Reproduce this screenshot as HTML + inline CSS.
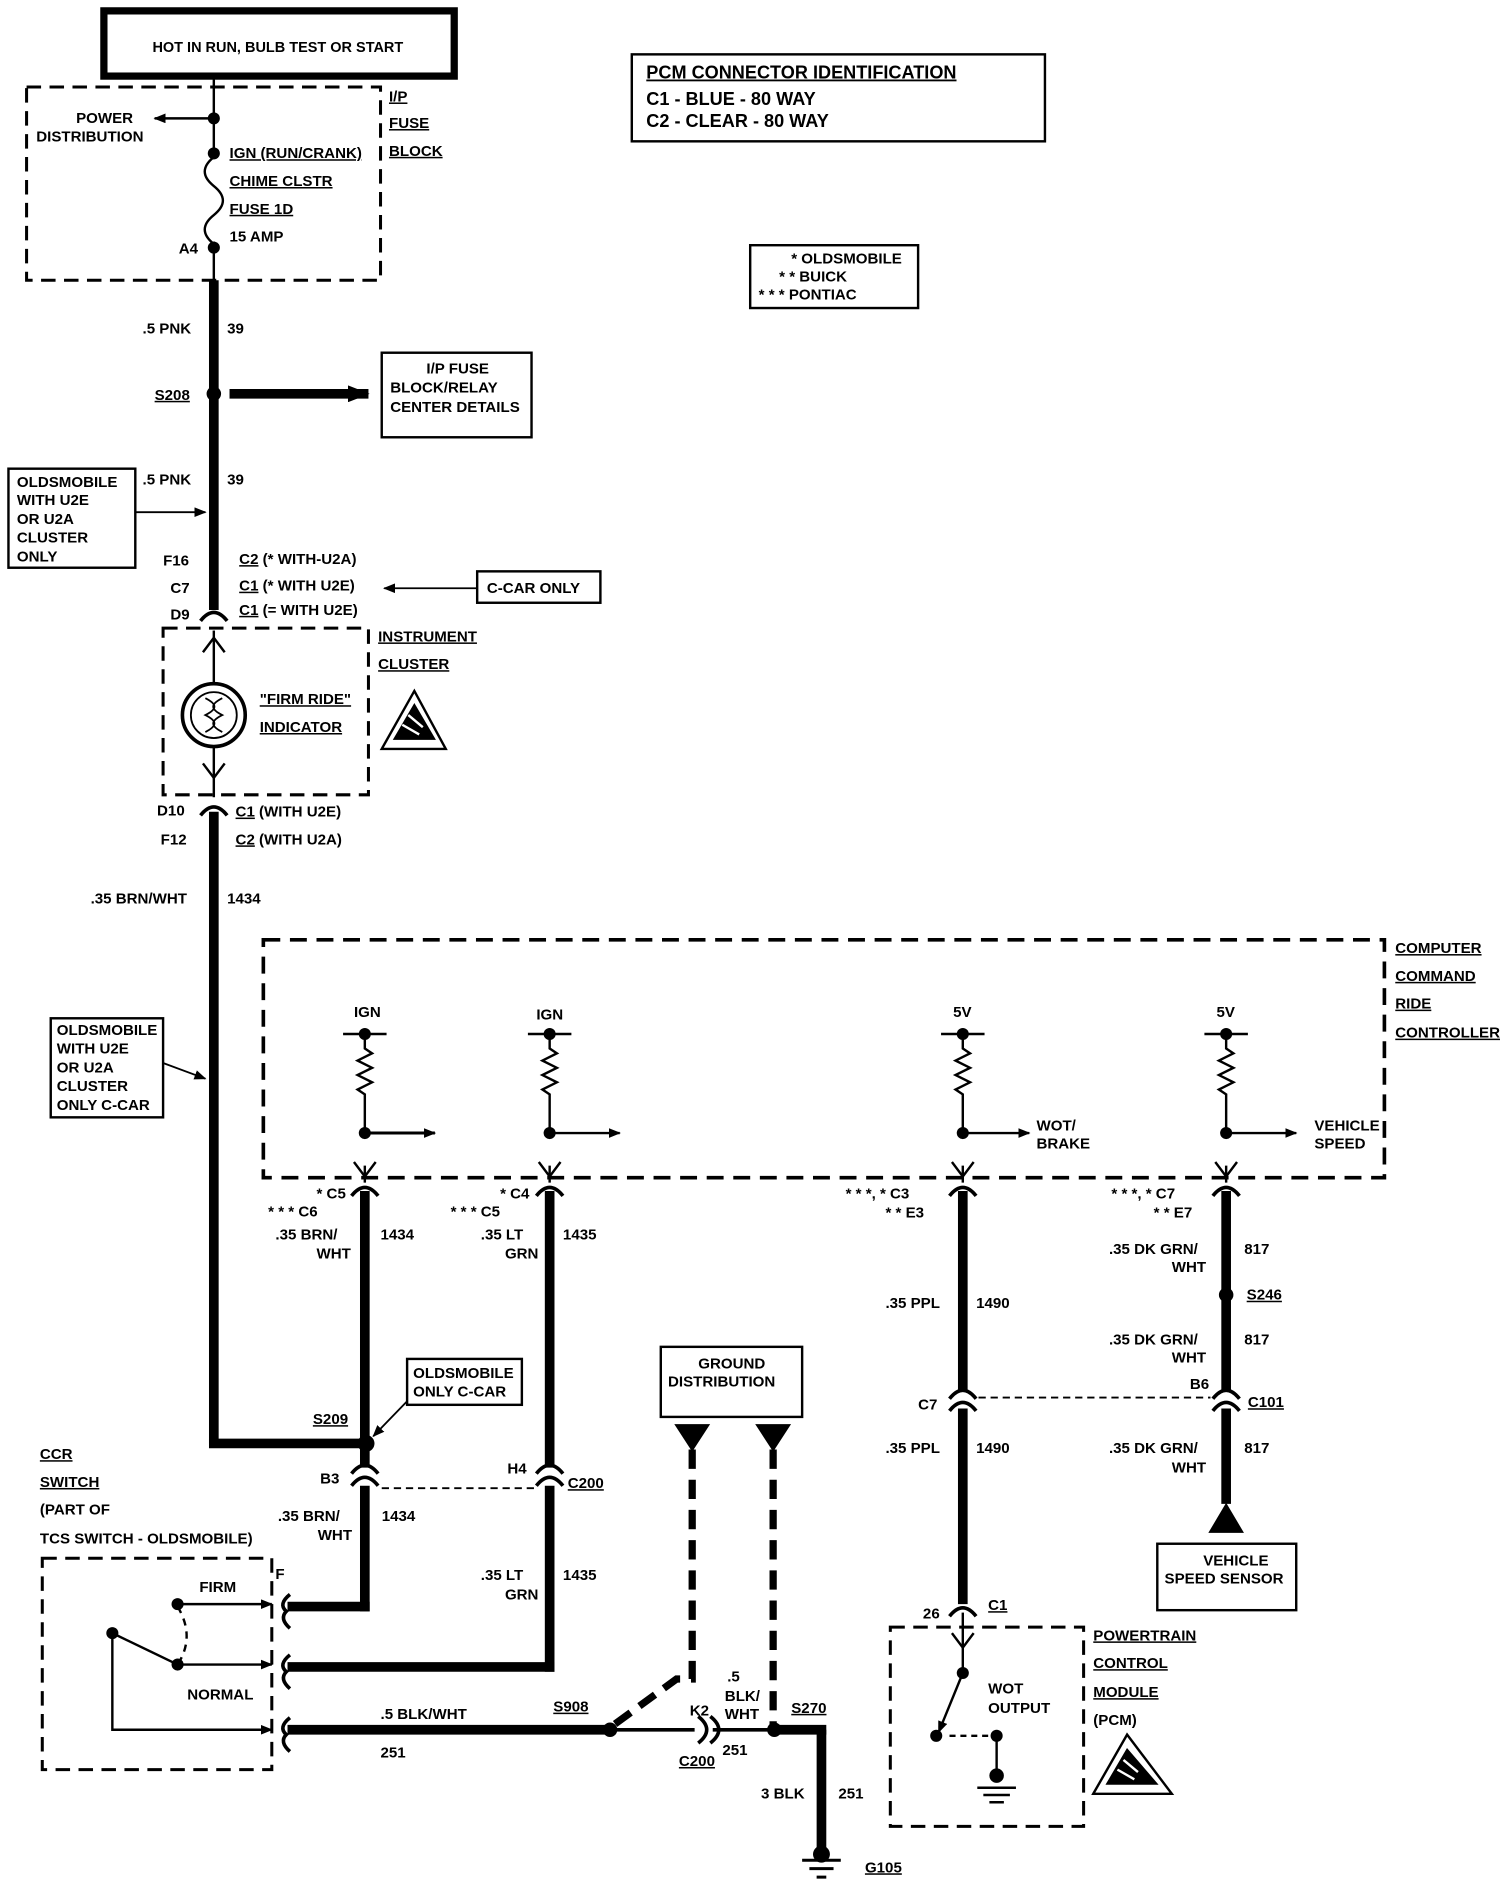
<!DOCTYPE html>
<html><head><meta charset="utf-8"><style>
html,body{margin:0;padding:0;background:#fff;}
svg{display:block;}
text{font-family:"Liberation Sans",sans-serif;font-size:12.5px;font-weight:bold;fill:#000;}
.u{text-decoration:underline;}
</style></head><body>
<svg width="1504" height="1888" viewBox="0 0 1245 1563" preserveAspectRatio="none" xmlns="http://www.w3.org/2000/svg">
<defs>
<marker id="ah" markerWidth="10" markerHeight="8" refX="9" refY="4" orient="auto" markerUnits="userSpaceOnUse"><path d="M0,0 L10,4 L0,8z" fill="#000"/></marker>
<marker id="ahs" markerWidth="18" markerHeight="14" refX="17" refY="7" orient="auto" markerUnits="userSpaceOnUse"><path d="M0,0 L18,7 L0,14z" fill="#000"/></marker>
</defs>
<g fill="none" stroke="#000">
<rect x="86" y="9" width="290" height="54" stroke-width="6"/>
<rect x="22" y="72" width="293" height="160" stroke-width="2.5" stroke-dasharray="12,7"/>
<line x1="177" y1="64" x2="177" y2="130" stroke-width="2"/>
<path d="M177,130 c-10,8 -10,16 0,24 c10,8 10,16 0,24 c-10,8 -10,16 0,24" stroke-width="2"/>
<line x1="177" y1="200" x2="177" y2="232" stroke-width="2"/>
<line x1="177" y1="98" x2="128" y2="98" stroke-width="2" marker-end="url(#ah)"/>
<line x1="177" y1="232" x2="177" y2="505" stroke-width="8"/>
<line x1="190" y1="326" x2="305" y2="326" stroke-width="8" marker-end="url(#ahs)"/>
<rect x="316" y="292" width="124" height="70" stroke-width="2"/>
<rect x="7" y="388" width="105" height="82" stroke-width="2"/>
<line x1="112" y1="424" x2="170" y2="424" stroke-width="1.5" marker-end="url(#ah)"/>
<line x1="395" y1="487" x2="318" y2="487" stroke-width="1.5" marker-end="url(#ah)"/>
<rect x="395" y="473" width="102" height="26" stroke-width="2"/>
<path d="M166,514 q11,-14 22,0" stroke-width="3"/>
<rect x="135" y="520" width="170" height="138" stroke-width="2.5" stroke-dasharray="12,7"/>
<line x1="177" y1="522" x2="177" y2="566" stroke-width="2"/>
<path d="M168,540 L177,528 L186,540" stroke-width="2"/>
<circle cx="177" cy="592" r="26" stroke-width="3"/>
<circle cx="177" cy="592" r="19" stroke-width="1.5"/>
<path d="M170,578 c10,5 10,9 0,14 c10,5 10,9 0,14 M184,578 c-10,5 -10,9 0,14 c-10,5 -10,9 0,14" stroke-width="1.5"/>
<line x1="177" y1="618" x2="177" y2="660" stroke-width="2"/>
<path d="M168,632 L177,644 L186,632" stroke-width="2"/>
<path d="M166,675 q11,-14 22,0" stroke-width="3"/>
<line x1="177" y1="672" x2="177" y2="1195" stroke-width="8"/>
<line x1="173" y1="1195" x2="303" y2="1195" stroke-width="8"/>
<rect x="42" y="843" width="93" height="82" stroke-width="2"/>
<line x1="135" y1="880" x2="170" y2="893" stroke-width="1.5" marker-end="url(#ah)"/>
<path d="M316,620 L343,572 L369,620z" stroke-width="2"/>
<path d="M326,612 L343,583 L360,612z" fill="#000" stroke-width="1"/>
<path d="M333,600 l14,8 M338,592 l12,10" stroke="#fff" stroke-width="2"/>
<rect x="218" y="778" width="928" height="197" stroke-width="3" stroke-dasharray="14,8"/>
<g stroke-width="2">
<line x1="284" y1="856" x2="320" y2="856"/><line x1="437" y1="856" x2="473" y2="856"/>
<line x1="779" y1="856" x2="815" y2="856"/><line x1="997" y1="856" x2="1033" y2="856"/>
<path d="M302,856 v12 l6,4 l-12,6 l12,6 l-12,6 l12,6 l-12,6 l6,4 v32 M302,965 v14"/>
<path d="M455,856 v12 l6,4 l-12,6 l12,6 l-12,6 l12,6 l-12,6 l6,4 v32 M455,965 v14"/>
<path d="M797,856 v12 l6,4 l-12,6 l12,6 l-12,6 l12,6 l-12,6 l6,4 v32 M797,965 v14"/>
<path d="M1015,856 v12 l6,4 l-12,6 l12,6 l-12,6 l12,6 l-12,6 l6,4 v32 M1015,965 v14"/>
<path d="M293,962 l9,12 l9,-12 M446,962 l9,12 l9,-12 M788,962 l9,12 l9,-12 M1006,962 l9,12 l9,-12"/>
</g>
<line x1="302" y1="938" x2="360" y2="938" stroke-width="2.5" marker-end="url(#ah)"/>
<line x1="455" y1="938" x2="513" y2="938" stroke-width="2" marker-end="url(#ah)"/>
<line x1="797" y1="938" x2="852" y2="938" stroke-width="2" marker-end="url(#ah)"/>
<line x1="1015" y1="938" x2="1073" y2="938" stroke-width="2" marker-end="url(#ah)"/>
<g stroke-width="3">
<path d="M291,990 q11,-14 22,0"/><path d="M444,990 q11,-14 22,0"/><path d="M786,990 q11,-14 22,0"/><path d="M1004,990 q11,-14 22,0"/>
</g>
<g stroke-width="8">
<line x1="302" y1="986" x2="302" y2="1215"/>
<line x1="302" y1="1230" x2="302" y2="1334"/><line x1="238" y1="1330" x2="306" y2="1330"/>
<line x1="455" y1="986" x2="455" y2="1215"/>
<line x1="455" y1="1230" x2="455" y2="1384"/><line x1="238" y1="1380" x2="459" y2="1380"/>
<line x1="797" y1="986" x2="797" y2="1152"/><line x1="797" y1="1166" x2="797" y2="1328"/>
<line x1="1015" y1="986" x2="1015" y2="1152"/><line x1="1015" y1="1166" x2="1015" y2="1245"/>
<line x1="238" y1="1432" x2="505" y2="1432"/>
<line x1="641" y1="1432" x2="684" y2="1432"/><line x1="680" y1="1432" x2="680" y2="1535"/>
</g>
<line x1="505" y1="1432" x2="575" y2="1432" stroke-width="3"/>
<line x1="590" y1="1432" x2="641" y2="1432" stroke-width="3"/>
<g stroke-width="3">
<path d="M291,1220 q11,-14 22,0 M291,1230 q11,-14 22,0"/>
<path d="M444,1220 q11,-14 22,0 M444,1230 q11,-14 22,0"/>
<path d="M786,1158 q11,-14 22,0 M786,1168 q11,-14 22,0"/>
<path d="M1004,1158 q11,-14 22,0 M1004,1168 q11,-14 22,0"/>
<path d="M786,1338 q11,-14 22,0"/>
<path d="M578,1421 q14,11 0,22 M588,1421 q14,11 0,22"/>
<path d="M240,1320 q-10,8 -3,14 q-6,6 3,14" />
<path d="M240,1370 q-10,8 -3,14 q-6,6 3,14" />
<path d="M240,1422 q-10,8 -3,14 q-6,6 3,14" />
</g>
<line x1="316" y1="1232" x2="444" y2="1232" stroke-width="1.5" stroke-dasharray="6,4"/>
<line x1="810" y1="1157" x2="1002" y2="1157" stroke-width="1.5" stroke-dasharray="6,4"/>
<rect x="337" y="1125" width="95" height="38" stroke-width="2"/>
<line x1="337" y1="1160" x2="309" y2="1189" stroke-width="1.5" marker-end="url(#ah)"/>
<path d="M1002,1268 L1015,1246 L1028,1268z" fill="#000" stroke-width="2"/>
<rect x="958" y="1278" width="115" height="55" stroke-width="2"/>
<rect x="737" y="1347" width="160" height="165" stroke-width="2.5" stroke-dasharray="12,7"/>
<line x1="797" y1="1335" x2="797" y2="1385" stroke-width="2"/>
<path d="M788,1352 l9,12 l9,-12" stroke-width="2"/>
<line x1="797" y1="1385" x2="777" y2="1434" stroke-width="2" marker-end="url(#ah)"/>
<line x1="786" y1="1437" x2="822" y2="1437" stroke-width="2" stroke-dasharray="5,4"/>
<line x1="825" y1="1437" x2="825" y2="1472" stroke-width="2"/>
<path d="M809,1480 h32 M814,1486 h22 M819,1492 h12" stroke-width="2"/>
<path d="M905,1485 L933,1436 L970,1485z" stroke-width="2"/>
<path d="M916,1477 L933,1448 L958,1477z" fill="#000" stroke-width="1"/>
<path d="M925,1465 l14,8 M930,1457 l12,10" stroke="#fff" stroke-width="2"/>
<rect x="35" y="1290" width="190" height="175" stroke-width="2.5" stroke-dasharray="12,7"/>
<line x1="147" y1="1328" x2="225" y2="1328" stroke-width="2" marker-end="url(#ah)"/>
<line x1="147" y1="1378" x2="225" y2="1378" stroke-width="2" marker-end="url(#ah)"/>
<line x1="93" y1="1352" x2="147" y2="1378" stroke-width="2"/>
<path d="M93,1352 V1432 H225" stroke-width="2" marker-end="url(#ah)"/>
<path d="M147,1330 q15,25 0,48" stroke-width="2" stroke-dasharray="6,5"/>
<rect x="547" y="1115" width="117" height="58" stroke-width="2"/>
<path d="M560,1180 h26 l-13,20z M627,1180 h26 l-13,20z" fill="#000" stroke-width="2"/>
<path d="M573,1200 V1390 H560 L508,1428" stroke-width="6" stroke-dasharray="16,9"/>
<path d="M640,1200 V1432" stroke-width="6" stroke-dasharray="16,9"/>
<path d="M664,1540 h32 M670,1547 h20 M676,1554 h8" stroke-width="2.5"/>
<rect x="523" y="45" width="342" height="72" stroke-width="2"/>
<rect x="621" y="203" width="139" height="52" stroke-width="2"/>
</g>
<g fill="#000">
<circle cx="177" cy="98" r="5"/><circle cx="177" cy="127" r="5"/><circle cx="177" cy="205" r="5"/>
<circle cx="177" cy="326" r="6"/>
<circle cx="302" cy="856" r="5"/><circle cx="455" cy="856" r="5"/><circle cx="797" cy="856" r="5"/><circle cx="1015" cy="856" r="5"/>
<circle cx="302" cy="938" r="5"/><circle cx="455" cy="938" r="5"/><circle cx="797" cy="938" r="5"/><circle cx="1015" cy="938" r="5"/>
<circle cx="303" cy="1195" r="7"/><circle cx="1015" cy="1072" r="6"/>
<circle cx="147" cy="1328" r="5"/><circle cx="147" cy="1378" r="5"/><circle cx="93" cy="1352" r="5"/>
<circle cx="505" cy="1432" r="6"/><circle cx="641" cy="1432" r="6"/>
<circle cx="797" cy="1385" r="5"/><circle cx="775" cy="1437" r="5"/><circle cx="825" cy="1437" r="5"/>
<circle cx="825" cy="1470" r="6"/><circle cx="680" cy="1535" r="7"/>
</g>
<text x="230" y="43" text-anchor="middle" style="font-size:12px">HOT IN RUN, BULB TEST OR START</text>
<text x="63" y="102">POWER</text><text x="30" y="117">DISTRIBUTION</text>
<text x="190" y="131" class="u">IGN (RUN/CRANK)</text>
<text x="190" y="154" class="u">CHIME CLSTR</text>
<text x="190" y="177" class="u">FUSE 1D</text>
<text x="190" y="200">15 AMP</text>
<text x="148" y="210">A4</text>
<text x="322" y="84" class="u">I/P</text><text x="322" y="106" class="u">FUSE</text><text x="322" y="129" class="u">BLOCK</text>
<text x="118" y="276">.5 PNK</text><text x="188" y="276">39</text>
<text x="128" y="331" class="u">S208</text>
<text x="353" y="309">I/P FUSE</text><text x="323" y="325">BLOCK/RELAY</text><text x="323" y="341">CENTER DETAILS</text>
<text x="118" y="401">.5 PNK</text><text x="188" y="401">39</text>
<text x="14" y="403">OLDSMOBILE</text><text x="14" y="418">WITH U2E</text><text x="14" y="434">OR U2A</text><text x="14" y="449">CLUSTER</text><text x="14" y="465">ONLY</text>
<text x="135" y="468">F16</text><text x="141" y="491">C7</text><text x="141" y="513">D9</text>
<text x="198" y="467"><tspan class="u">C2</tspan> (* WITH-U2A)</text>
<text x="198" y="489"><tspan class="u">C1</tspan> (* WITH U2E)</text>
<text x="198" y="509"><tspan class="u">C1</tspan> (= WITH U2E)</text>
<text x="403" y="491">C-CAR ONLY</text>
<text x="313" y="531" class="u">INSTRUMENT</text><text x="313" y="554" class="u">CLUSTER</text>
<text x="215" y="583" class="u">"FIRM RIDE"</text><text x="215" y="606" class="u">INDICATOR</text>
<text x="130" y="675">D10</text><text x="133" y="699">F12</text>
<text x="195" y="676"><tspan class="u">C1</tspan> (WITH U2E)</text>
<text x="195" y="699"><tspan class="u">C2</tspan> (WITH U2A)</text>
<text x="75" y="748">.35 BRN/WHT</text><text x="188" y="748">1434</text>
<text x="47" y="857">OLDSMOBILE</text><text x="47" y="872">WITH U2E</text><text x="47" y="888">OR U2A</text><text x="47" y="903">CLUSTER</text><text x="47" y="919">ONLY C-CAR</text>
<text x="1155" y="789" class="u">COMPUTER</text><text x="1155" y="812" class="u">COMMAND</text><text x="1155" y="835" class="u">RIDE</text><text x="1155" y="859" class="u">CONTROLLER</text>
<text x="293" y="842">IGN</text><text x="444" y="844">IGN</text><text x="789" y="842">5V</text><text x="1007" y="842">5V</text>
<text x="858" y="936">WOT/</text><text x="858" y="951">BRAKE</text>
<text x="1088" y="936">VEHICLE</text><text x="1088" y="951">SPEED</text>
<text x="262" y="992">* C5</text><text x="222" y="1007">* * * C6</text>
<text x="228" y="1026">.35 BRN/</text><text x="262" y="1042">WHT</text><text x="315" y="1026">1434</text>
<text x="414" y="992">* C4</text><text x="373" y="1007">* * * C5</text>
<text x="398" y="1026">.35 LT</text><text x="418" y="1042">GRN</text><text x="466" y="1026">1435</text>
<text x="700" y="992">* * *, * C3</text><text x="733" y="1008">* * E3</text>
<text x="733" y="1083">.35 PPL</text><text x="808" y="1083">1490</text>
<text x="920" y="992">* * *, * C7</text><text x="955" y="1008">* * E7</text>
<text x="918" y="1038">.35 DK GRN/</text><text x="970" y="1053">WHT</text><text x="1030" y="1038">817</text>
<text x="1032" y="1076" class="u">S246</text>
<text x="918" y="1113">.35 DK GRN/</text><text x="970" y="1128">WHT</text><text x="1030" y="1113">817</text>
<text x="985" y="1150">B6</text><text x="1033" y="1165" class="u">C101</text>
<text x="760" y="1167">C7</text>
<text x="733" y="1203">.35 PPL</text><text x="808" y="1203">1490</text>
<text x="918" y="1203">.35 DK GRN/</text><text x="970" y="1219">WHT</text><text x="1030" y="1203">817</text>
<text x="996" y="1296">VEHICLE</text><text x="964" y="1311">SPEED SENSOR</text>
<text x="764" y="1340">26</text><text x="818" y="1333" class="u">C1</text>
<text x="818" y="1402">WOT</text><text x="818" y="1418">OUTPUT</text>
<text x="905" y="1358" class="u">POWERTRAIN</text><text x="905" y="1381" class="u">CONTROL</text><text x="905" y="1405" class="u">MODULE</text><text x="905" y="1428">(PCM)</text>
<text x="342" y="1141">OLDSMOBILE</text><text x="342" y="1156">ONLY C-CAR</text>
<text x="259" y="1179" class="u">S209</text>
<text x="265" y="1228">B3</text>
<text x="420" y="1220">H4</text><text x="470" y="1232" class="u">C200</text>
<text x="230" y="1259">.35 BRN/</text><text x="263" y="1275">WHT</text><text x="316" y="1259">1434</text>
<text x="398" y="1308">.35 LT</text><text x="418" y="1324">GRN</text><text x="466" y="1308">1435</text>
<text x="33" y="1208" class="u">CCR</text><text x="33" y="1231" class="u">SWITCH</text><text x="33" y="1254">(PART OF</text><text x="33" y="1278">TCS SWITCH - OLDSMOBILE)</text>
<text x="228" y="1307">F</text>
<text x="165" y="1318">FIRM</text><text x="155" y="1407">NORMAL</text>
<text x="315" y="1423">.5 BLK/WHT</text><text x="315" y="1455">251</text>
<text x="458" y="1417" class="u">S908</text>
<text x="571" y="1420">K2</text><text x="562" y="1462" class="u">C200</text>
<text x="602" y="1392">.5</text><text x="600" y="1408">BLK/</text><text x="600" y="1423">WHT</text><text x="598" y="1453">251</text>
<text x="655" y="1418" class="u">S270</text>
<text x="630" y="1489">3 BLK</text><text x="694" y="1489">251</text>
<text x="716" y="1550" class="u">G105</text>
<text x="578" y="1133">GROUND</text><text x="553" y="1148">DISTRIBUTION</text>
<text x="535" y="65" class="u" style="font-size:15px">PCM CONNECTOR IDENTIFICATION</text>
<text x="535" y="87" style="font-size:15px">C1 - BLUE    - 80 WAY</text>
<text x="535" y="105" style="font-size:15px">C2 - CLEAR  - 80 WAY</text>
<text x="655" y="218">* OLDSMOBILE</text><text x="645" y="233">* * BUICK</text><text x="628" y="248">* * * PONTIAC</text>
</svg>
</body></html>
